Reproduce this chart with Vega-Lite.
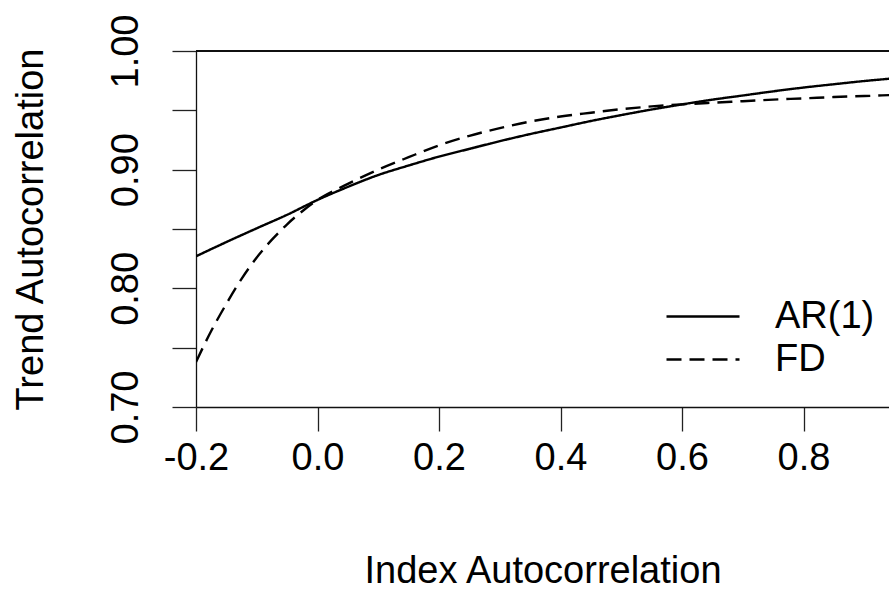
{
  "$schema": "https://vega.github.io/schema/vega-lite/v6.json",
  "width": 693,
  "height": 356,
  "autosize": {"type": "none"},
  "padding": {"left": 196, "top": 51, "right": 0, "bottom": 182},
  "background": "white",
  "config": {
    "view": {"stroke": null},
    "font": "Liberation Sans",
    "axis": {
      "domainColor": "#111",
      "domainWidth": 1.3,
      "tickColor": "#222",
      "tickWidth": 1.3,
      "tickSize": 24,
      "grid": false,
      "labelFont": "Liberation Sans",
      "labelFontSize": 38,
      "labelColor": "black",
      "labelFlush": false,
      "labelOverlap": false,
      "labelBound": false,
      "titleFont": "Liberation Sans",
      "titleFontSize": 38,
      "titleFontWeight": "normal",
      "titleColor": "black"
    }
  },
  "data": {
    "values": [
      {"x": -0.2, "y": 0.827, "series": "AR(1)"},
      {"x": -0.15, "y": 0.839, "series": "AR(1)"},
      {"x": -0.1, "y": 0.8506, "series": "AR(1)"},
      {"x": -0.05, "y": 0.862, "series": "AR(1)"},
      {"x": 0.0, "y": 0.8745, "series": "AR(1)"},
      {"x": 0.05, "y": 0.8855, "series": "AR(1)"},
      {"x": 0.1, "y": 0.8955, "series": "AR(1)"},
      {"x": 0.15, "y": 0.9035, "series": "AR(1)"},
      {"x": 0.2, "y": 0.911, "series": "AR(1)"},
      {"x": 0.25, "y": 0.9175, "series": "AR(1)"},
      {"x": 0.3, "y": 0.924, "series": "AR(1)"},
      {"x": 0.35, "y": 0.93, "series": "AR(1)"},
      {"x": 0.4, "y": 0.9355, "series": "AR(1)"},
      {"x": 0.45, "y": 0.941, "series": "AR(1)"},
      {"x": 0.5, "y": 0.946, "series": "AR(1)"},
      {"x": 0.55, "y": 0.9507, "series": "AR(1)"},
      {"x": 0.6, "y": 0.955, "series": "AR(1)"},
      {"x": 0.65, "y": 0.959, "series": "AR(1)"},
      {"x": 0.7, "y": 0.9625, "series": "AR(1)"},
      {"x": 0.75, "y": 0.966, "series": "AR(1)"},
      {"x": 0.8, "y": 0.9692, "series": "AR(1)"},
      {"x": 0.85, "y": 0.972, "series": "AR(1)"},
      {"x": 0.9, "y": 0.9747, "series": "AR(1)"},
      {"x": 0.95, "y": 0.977, "series": "AR(1)"},
      {"x": -0.2, "y": 0.738, "series": "FD"},
      {"x": -0.175, "y": 0.764, "series": "FD"},
      {"x": -0.15, "y": 0.787, "series": "FD"},
      {"x": -0.125, "y": 0.808, "series": "FD"},
      {"x": -0.1, "y": 0.826, "series": "FD"},
      {"x": -0.075, "y": 0.841, "series": "FD"},
      {"x": -0.05, "y": 0.854, "series": "FD"},
      {"x": -0.025, "y": 0.865, "series": "FD"},
      {"x": 0.0, "y": 0.8745, "series": "FD"},
      {"x": 0.05, "y": 0.888, "series": "FD"},
      {"x": 0.1, "y": 0.9, "series": "FD"},
      {"x": 0.15, "y": 0.9105, "series": "FD"},
      {"x": 0.2, "y": 0.9205, "series": "FD"},
      {"x": 0.25, "y": 0.9285, "series": "FD"},
      {"x": 0.3, "y": 0.935, "series": "FD"},
      {"x": 0.35, "y": 0.9405, "series": "FD"},
      {"x": 0.4, "y": 0.9448, "series": "FD"},
      {"x": 0.45, "y": 0.948, "series": "FD"},
      {"x": 0.5, "y": 0.951, "series": "FD"},
      {"x": 0.55, "y": 0.9533, "series": "FD"},
      {"x": 0.6, "y": 0.955, "series": "FD"},
      {"x": 0.65, "y": 0.9564, "series": "FD"},
      {"x": 0.7, "y": 0.9577, "series": "FD"},
      {"x": 0.75, "y": 0.959, "series": "FD"},
      {"x": 0.8, "y": 0.9601, "series": "FD"},
      {"x": 0.85, "y": 0.9612, "series": "FD"},
      {"x": 0.9, "y": 0.9621, "series": "FD"},
      {"x": 0.95, "y": 0.963, "series": "FD"}
    ]
  },
  "layer": [
    {
      "mark": {"type": "rule", "color": "#111", "strokeWidth": 1.3},
      "encoding": {
        "y": {"datum": 1.0, "type": "quantitative"}
      }
    },
    {
      "mark": {"type": "line", "color": "black", "strokeWidth": 2.4, "clip": true, "interpolate": "monotone"},
      "encoding": {
        "x": {
          "field": "x",
          "type": "quantitative",
          "scale": {"domain": [-0.2, 0.9407], "nice": false, "zero": false},
          "axis": {
            "values": [-0.2, 0.0, 0.2, 0.4, 0.6, 0.8],
            "labelExpr": "replace(format(datum.value, '.1f'), '\u2212', '-')",
            "labelAlign": "center",
            "labelBaseline": "alphabetic",
            "labelPadding": 38,
            "title": "Index Autocorrelation",
            "titleBaseline": "alphabetic",
            "titleAlign": "center",
            "titleY": 175
          }
        },
        "y": {
          "field": "y",
          "type": "quantitative",
          "scale": {"domain": [0.7, 1.0], "nice": false, "zero": false},
          "axis": {
            "values": [0.7, 0.75, 0.8, 0.85, 0.9, 0.95, 1.0],
            "labelExpr": "round(datum.value * 100) % 10 == 0 ? format(datum.value, '.2f') : ''",
            "labelAngle": -90,
            "labelAlign": "center",
            "labelBaseline": "alphabetic",
            "labelPadding": 35,
            "title": "Trend Autocorrelation",
            "titleAngle": -90,
            "titleBaseline": "alphabetic",
            "titleAlign": "center",
            "titleX": -154,
            "titleY": 178
          }
        },
        "strokeDash": {
          "field": "series",
          "type": "nominal",
          "scale": {"domain": ["AR(1)", "FD"], "range": [[1, 0], [15, 8]]},
          "legend": {
            "orient": "none",
            "legendX": 469,
            "legendY": 244,
            "title": null,
            "symbolType": "stroke",
            "symbolSize": 5329,
            "symbolStrokeWidth": 2.4,
            "symbolStrokeColor": "black",
            "labelFont": "Liberation Sans",
            "labelFontSize": 38,
            "labelColor": "black",
            "labelOffset": 34,
            "padding": 0,
            "clipHeight": 43,
            "rowPadding": 0
          }
        }
      }
    }
  ]
}
